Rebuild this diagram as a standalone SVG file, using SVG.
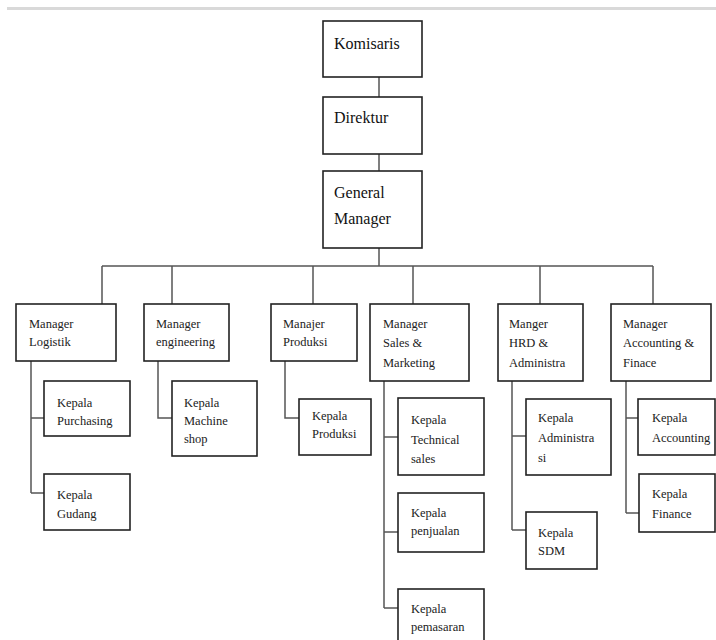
<svg xmlns="http://www.w3.org/2000/svg" width="716" height="640" viewBox="0 0 716 640">
<style>
.box{fill:#fff;stroke:#222;stroke-width:1.6}
.ln{fill:none;stroke:#555;stroke-width:1.5}
.t1{font-family:"Liberation Serif","Times New Roman",serif;font-size:16px;fill:#111}
.t2{font-family:"Liberation Serif","Times New Roman",serif;font-size:12.5px;fill:#222}
</style>
<rect x="0" y="0" width="716" height="640" fill="#fff"/>
<rect x="7" y="7" width="709" height="3" fill="#d9d9d9"/>
<g id="connectors">
<path class="ln" d="M379 77V97M379 154V171M379 248V266M102 266H653M102 266V304M172 266V304M313 266V304M413 266V304M540 266V304M653 266V304"/>
<path class="ln" d="M31 361V493M31 418H44M31 493H44"/>
<path class="ln" d="M158 361V418H172"/>
<path class="ln" d="M285 361V418H299"/>
<path class="ln" d="M384 381V608M384 437H398M384 532H398M384 608H398"/>
<path class="ln" d="M512 381V530M512 436H526M512 530H526"/>
<path class="ln" d="M626 381V513M626 418H638M626 513H639"/>
</g>
<g id="komisaris"><rect class="box" x="323" y="21" width="99" height="56"/><text class="t1" x="334" y="49">Komisaris</text></g>
<g id="direktur"><rect class="box" x="323" y="97" width="99" height="57"/><text class="t1" x="334" y="123">Direktur</text></g>
<g id="general-manager"><rect class="box" x="323" y="171" width="99" height="77"/><text class="t1" x="334" y="198">General</text><text class="t1" x="334" y="224">Manager</text></g>
<g id="manager-logistik"><rect class="box" x="16" y="304" width="100" height="57"/><text class="t2" x="29" y="328">Manager</text><text class="t2" x="29" y="346">Logistik</text></g>
<g id="manager-engineering"><rect class="box" x="144" y="304" width="85" height="57"/><text class="t2" x="156" y="328">Manager</text><text class="t2" x="156" y="346">engineering</text></g>
<g id="manajer-produksi"><rect class="box" x="271" y="304" width="86" height="57"/><text class="t2" x="283" y="328">Manajer</text><text class="t2" x="283" y="346">Produksi</text></g>
<g id="manager-sales"><rect class="box" x="370" y="304" width="99" height="77"/><text class="t2" x="383" y="328">Manager</text><text class="t2" x="383" y="347">Sales &amp;</text><text class="t2" x="383" y="367">Marketing</text></g>
<g id="manger-hrd"><rect class="box" x="498" y="304" width="85" height="77"/><text class="t2" x="509" y="328">Manger</text><text class="t2" x="509" y="347">HRD &amp;</text><text class="t2" x="509" y="367">Administra</text></g>
<g id="manager-accounting"><rect class="box" x="611" y="304" width="100" height="77"/><text class="t2" x="623" y="328">Manager</text><text class="t2" x="623" y="347">Accounting &amp;</text><text class="t2" x="623" y="367">Finace</text></g>
<g id="kepala-purchasing"><rect class="box" x="44" y="381" width="86" height="55"/><text class="t2" x="57" y="407">Kepala</text><text class="t2" x="57" y="425">Purchasing</text></g>
<g id="kepala-gudang"><rect class="box" x="44" y="474" width="86" height="56"/><text class="t2" x="57" y="499">Kepala</text><text class="t2" x="57" y="518">Gudang</text></g>
<g id="kepala-machine"><rect class="box" x="172" y="381" width="85" height="75"/><text class="t2" x="184" y="407">Kepala</text><text class="t2" x="184" y="425">Machine</text><text class="t2" x="184" y="443">shop</text></g>
<g id="kepala-produksi"><rect class="box" x="299" y="399" width="72" height="56"/><text class="t2" x="312" y="420">Kepala</text><text class="t2" x="312" y="438">Produksi</text></g>
<g id="kepala-technical"><rect class="box" x="398" y="398" width="86" height="77"/><text class="t2" x="411" y="424">Kepala</text><text class="t2" x="411" y="444">Technical</text><text class="t2" x="411" y="463">sales</text></g>
<g id="kepala-penjualan"><rect class="box" x="398" y="493" width="86" height="59"/><text class="t2" x="411" y="517">Kepala</text><text class="t2" x="411" y="535">penjualan</text></g>
<g id="kepala-pemasaran"><rect class="box" x="398" y="589" width="86" height="56"/><text class="t2" x="411" y="613">Kepala</text><text class="t2" x="411" y="631">pemasaran</text></g>
<g id="kepala-administrasi"><rect class="box" x="526" y="399" width="85" height="76"/><text class="t2" x="538" y="422">Kepala</text><text class="t2" x="538" y="442">Administra</text><text class="t2" x="538" y="462">si</text></g>
<g id="kepala-sdm"><rect class="box" x="526" y="512" width="71" height="57"/><text class="t2" x="538" y="537">Kepala</text><text class="t2" x="538" y="555">SDM</text></g>
<g id="kepala-accounting"><rect class="box" x="638" y="399" width="77" height="56"/><text class="t2" x="652" y="422">Kepala</text><text class="t2" x="652" y="442">Accounting</text></g>
<g id="kepala-finance"><rect class="box" x="639" y="474" width="76" height="58"/><text class="t2" x="652" y="498">Kepala</text><text class="t2" x="652" y="518">Finance</text></g>
</svg>
